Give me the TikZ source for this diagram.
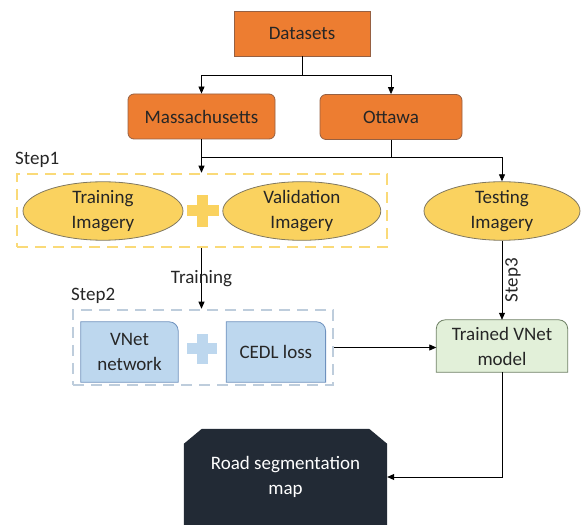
\documentclass[tikz,border=0pt]{standalone}
\usepackage{fontspec}
\setmainfont{Carlito}
\usepackage{xcolor}
\definecolor{schemaorange}{RGB}{237,125,49}
\definecolor{schemabrun}{RGB}{150,96,66}
\definecolor{schemajaune}{RGB}{250,210,95}
\definecolor{schemajauneclair}{RGB}{250,218,120}
\definecolor{schemagris}{RGB}{128,120,96}
\definecolor{schemableu}{RGB}{189,215,238}
\definecolor{schemableutrait}{RGB}{110,145,190}
\definecolor{schemableupale}{RGB}{190,205,220}
\definecolor{schemavert}{RGB}{226,240,217}
\definecolor{schemaverttrait}{RGB}{110,128,100}
\definecolor{schemanuit}{RGB}{34,42,53}
\definecolor{schematexte}{RGB}{38,38,38}
\usetikzlibrary{positioning,calc,arrows.meta,shapes.geometric,backgrounds}

\begin{document}
\begin{tikzpicture}[x=1pt, y=1pt,
    font=\fontsize{19}{25}\selectfont, text=schematexte,
    fleche/.style={draw=black, line width=0.8pt,
      -{Triangle[length=7pt,width=6pt]}},
    boiteorange/.style={fill=schemaorange, draw=schemabrun, line width=0.8pt,
      minimum height=45pt, align=center},
    ellipsejaune/.style={ellipse, fill=schemajaune, draw=schemagris,
      line width=0.8pt, minimum width=158pt, minimum height=57pt,
      inner sep=0pt, align=center},
    cadre/.style={line width=2.5pt, dash pattern=on 11pt off 7pt,
      inner sep=0pt},
    boitebleue/.style={minimum height=60pt, inner sep=0pt, align=center}]
  \useasboundingbox (0,0) rectangle (584,525);

  % Jeux de donnees : racine et deux branches
  \node[boiteorange, minimum width=136pt] (datasets)
    at (302,491.5) {Datasets};
  \node[boiteorange, rounded corners=6pt,
        minimum width=147pt] (mass) at (201.5,408.5) {Massachusetts};
  \node[boiteorange, rounded corners=6pt,
        minimum width=142pt] (ottawa) at (391,408) {Ottawa};
  \draw[fleche] (datasets.south) -- ++(0,-19) -| (mass.north);
  \draw[fleche] (datasets.south) -- ++(0,-19) -| (ottawa.north);

  % Etape 1 : cadre pointille jaune, imageries d'entrainement et de validation
  \node[cadre, draw=schemajauneclair, minimum width=370pt,
        minimum height=73pt] (etape1) at (202,314.5) {};
  \node[anchor=south west, inner sep=0pt] (lblun) at (15,357) {Step1};
  \node[ellipsejaune, minimum width=160pt] (train) at (103,314)
    {Training\\Imagery};
  \node[ellipsejaune, right=39pt of train] (valid) {Validation\\Imagery};
  \coordinate (plusun) at ($(train.east)!0.5!(valid.west)$);
  \fill[schemajaune] ([shift={(-16,-5.5)}]plusun) rectangle ([shift={(16,5.5)}]plusun);
  \fill[schemajaune] ([shift={(-5.5,-16)}]plusun) rectangle ([shift={(5.5,16)}]plusun);
  \node[ellipsejaune, minimum width=156pt] (testing) at (502,314)
    {Testing\\Imagery};

  % Liaisons des jeux de donnees vers les imageries
  \coordinate (jonction) at (mass.south |- 0,368);
  \draw[fleche] (mass.south) -- (etape1.north -| mass.south);
  \draw (ottawa.south) -- (ottawa.south |- jonction);
  \draw[fleche] (jonction) -| (testing.north);

  % Etape 2 : cadre pointille bleu, reseau VNet et perte CEDL
  \node[cadre, draw=schemableupale, minimum width=260pt,
        minimum height=75pt] (etape2) at (203,177.5) {};
  \node[anchor=south west, inner sep=0pt] (lbldeux) at (71,221) {Step2};
  \node[boitebleue, minimum width=97pt] (vnet) at (129.5,173) {VNet\\network};
  \node[boitebleue, minimum width=99pt, right=48pt of vnet] (cedl) {CEDL loss};
  \coordinate (plusdeux) at ($(vnet.east)!0.5!(cedl.west)+(0,3)$);
  \fill[schemableu] ([shift={(-15,-5.5)}]plusdeux) rectangle ([shift={(15,5.5)}]plusdeux);
  \fill[schemableu] ([shift={(-5.5,-15)}]plusdeux) rectangle ([shift={(5.5,15)}]plusdeux);
  \draw[fleche] (etape1.south -| mass.south) -- (etape2.north -| mass.south)
    node[midway, inner sep=0pt] (lblentr) {Training};

  % Modele entraine et carte de sortie
  \node[minimum width=131pt, minimum height=52pt, inner sep=0pt, align=center]
    (trained) at (502,179) {Trained VNet\\model};
  \node[minimum width=203pt, minimum height=96pt, inner sep=0pt,
        align=center, text=white] (road) at (285.5,48)
    {Road segmentation\\map};
  \begin{scope}[on background layer]
    \filldraw[fill=schemableu, draw=schemableutrait, line width=0.8pt]
      (vnet.south west) -- (vnet.north west) -- ([xshift=-9pt]vnet.north east)
      arc[start angle=90, end angle=0, radius=9pt] -- (vnet.south east) -- cycle;
    \filldraw[fill=schemableu, draw=schemableutrait, line width=0.8pt]
      (cedl.south west) -- (cedl.north west) -- ([xshift=-9pt]cedl.north east)
      arc[start angle=90, end angle=0, radius=9pt] -- (cedl.south east) -- cycle;
    \filldraw[fill=schemavert, draw=schemaverttrait, line width=0.8pt]
      (trained.south west) -- ([yshift=-9pt]trained.north west)
      arc[start angle=180, end angle=90, radius=9pt]
      -- ([xshift=-9pt]trained.north east)
      arc[start angle=90, end angle=0, radius=9pt] -- (trained.south east) -- cycle;
    % carte de sortie : coins superieurs coupes
    \fill[schemanuit] (road.south west) -- ([yshift=-15pt]road.north west)
      -- ([xshift=18pt]road.north west) -- ([xshift=-18pt]road.north east)
      -- ([yshift=-15pt]road.north east) -- (road.south east) -- cycle;
  \end{scope}
  \draw[fleche] (testing.south) -- (trained.north)
    node[midway, rotate=90, anchor=north, inner sep=3pt] (lbltrois) {Step3};
  \draw[fleche] (etape2.east) -- (etape2.east -| trained.west);
  \draw[fleche] (trained.south) |- (road.east);
\end{tikzpicture}
\end{document}
